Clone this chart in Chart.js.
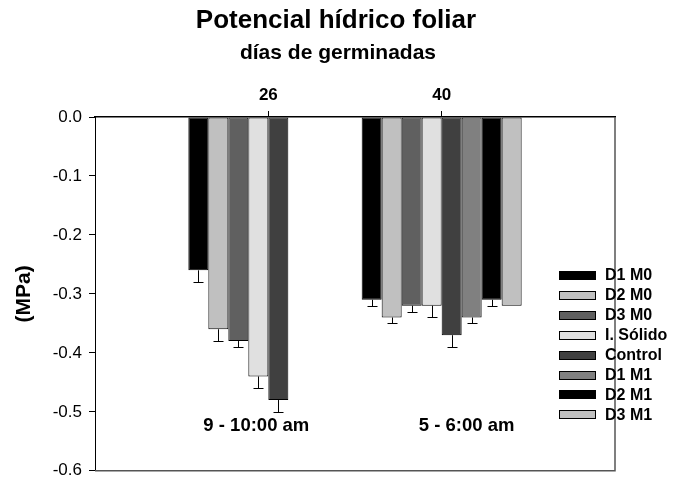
<!DOCTYPE html>
<html>
<head>
<meta charset="utf-8">
<script src="https://cdn.jsdelivr.net/npm/chart.js@4/dist/chart.umd.min.js"></script>
<style>
  html, body { margin: 0; padding: 0; background: #fff; }
  #wrap { width: 680px; height: 488px; }
</style>
</head>
<body>
<div id="wrap"><canvas id="c" width="680" height="488"></canvas></div>
<script>
// ---- data ----
const categories = ['', '26', '40', ''];
const seriesNames = ['D1 M0', 'D2 M0', 'D3 M0', 'I. Sólido', 'Control', 'D1 M1', 'D2 M1', 'D3 M1'];
const seriesColors = ['#000000', '#c0c0c0', '#606060', '#e0e0e0', '#404040', '#808080', '#000000', '#c0c0c0'];
// values at day 26 and day 40 (MPa); null = no bar
const day26 = [-0.26, -0.36, -0.38, -0.44, -0.48, null, null, null];
const day40 = [-0.31, -0.34, -0.32, -0.32, -0.37, -0.34, -0.31, -0.32];
// downward standard errors
const err26 = [0.02, 0.02, 0.01, 0.02, 0.02, null, null, null];
const err40 = [0.01, 0.01, 0.01, 0.02, 0.02, 0.01, 0.01, 0];
const yTicks = [0, -0.1, -0.2, -0.3, -0.4, -0.5, -0.6];
const titleText = 'Potencial hídrico foliar';
const subtitleText = 'días de germinadas';
const notes = [
  { text: '9 - 10:00 am', cat: 1, dx: -12, y: -0.532 },
  { text: '5 - 6:00 am', cat: 2, dx: 25, y: -0.532 }
];

const FONT = "'Liberation Sans', Arial, Helvetica, sans-serif";

const datasets = seriesNames.map((name, i) => ({
  label: name,
  data: [null, day26[i], day40[i], null],
  errors: [null, err26[i], err40[i], null],
  backgroundColor: seriesColors[i],
  borderColor: '#000000',
  borderWidth: 1,
  borderSkipped: false,
  categoryPercentage: 0.923,
  barPercentage: 1.0
}));

const errorBars = {
  id: 'errorBars',
  afterDatasetsDraw(chart) {
    const ctx = chart.ctx;
    const y = chart.scales.y;
    ctx.save();
    ctx.strokeStyle = '#000';
    ctx.lineWidth = 1;
    chart.data.datasets.forEach((ds, di) => {
      const meta = chart.getDatasetMeta(di);
      meta.data.forEach((el, j) => {
        const v = ds.data[j], e = ds.errors[j];
        if (v === null || e === null || !e) return;
        const x = Math.round(el.x) + 0.5;
        const y0 = y.getPixelForValue(v);
        const y1 = Math.round(y.getPixelForValue(v - e)) + 0.5;
        ctx.beginPath();
        ctx.moveTo(x, y0);
        ctx.lineTo(x, y1);
        ctx.moveTo(x - 5, y1);
        ctx.lineTo(x + 5, y1);
        ctx.stroke();
      });
    });
    ctx.restore();
  }
};

const extras = {
  id: 'extras',
  afterDraw(chart) {
    const ctx = chart.ctx;
    const a = chart.chartArea;
    const xs = chart.scales.x, ys = chart.scales.y;
    ctx.save();
    // bottom and right frame
    ctx.strokeStyle = '#555';
    ctx.lineWidth = 1.5;
    ctx.beginPath();
    ctx.moveTo(a.left, a.bottom);
    ctx.lineTo(a.right, a.bottom);
    ctx.lineTo(a.right, a.top);
    ctx.stroke();
    // titles
    ctx.fillStyle = '#000';
    ctx.textAlign = 'center';
    ctx.textBaseline = 'alphabetic';
    ctx.font = 'bold 26px ' + FONT;
    ctx.fillText(titleText, 336, 28);
    ctx.font = 'bold 21px ' + FONT;
    ctx.fillText(subtitleText, 338, 59);
    // notes
    ctx.font = 'bold 18.5px ' + FONT;
    notes.forEach(n => {
      ctx.fillText(n.text, xs.getPixelForValue(n.cat) + n.dx, ys.getPixelForValue(n.y));
    });
    // legend
    ctx.font = 'bold 16px ' + FONT;
    ctx.textAlign = 'left';
    ctx.textBaseline = 'middle';
    chart.data.datasets.forEach((ds, i) => {
      const cy = 275 + i * 19.9;
      ctx.fillStyle = ds.backgroundColor;
      ctx.fillRect(559.5, Math.round(cy - 4) + 0.5, 36, 8);
      ctx.strokeStyle = '#000';
      ctx.lineWidth = 1;
      ctx.strokeRect(559.5, Math.round(cy - 4) + 0.5, 36, 8);
      ctx.fillStyle = '#000';
      ctx.fillText(ds.label, 605, cy + 1);
    });
    ctx.restore();
  }
};

new Chart(document.getElementById('c'), {
  type: 'bar',
  data: { labels: categories, datasets },
  plugins: [errorBars, extras],
  options: {
    responsive: false,
    animation: false,
    devicePixelRatio: 1,
    layout: { padding: { left: 0, right: 65, top: 64, bottom: 11 } },
    plugins: {
      legend: { display: false },
      tooltip: { enabled: false },
      title: { display: false },
      subtitle: { display: false }
    },
    scales: {
      x: {
        type: 'category',
        position: 'top',
        offset: false,
        grid: {
          offset: false,
          drawOnChartArea: false,
          drawTicks: true,
          tickLength: 6,
          color: (c) => (c.tick && c.tick.label) ? '#000' : 'rgba(0,0,0,0)'
        },
        border: { display: true, color: '#000', width: 1.5 },
        ticks: {
          color: '#000',
          font: { family: FONT, size: 17, weight: 'bold' },
          padding: 5,
          maxRotation: 0,
          autoSkip: false
        },
        afterFit(s) { s.height = 53; }
      },
      y: {
        min: -0.6,
        max: 0,
        grid: { drawOnChartArea: false, drawTicks: true, tickLength: 6, color: '#000' },
        border: { display: true, color: '#000', width: 1 },
        afterBuildTicks(s) { s.ticks = yTicks.map(v => ({ value: v })); },
        ticks: {
          color: '#000',
          font: { family: FONT, size: 17 },
          padding: 7,
          callback: (v) => Number(v).toFixed(1)
        },
        title: {
          display: true,
          text: '(MPa)',
          color: '#000',
          font: { family: FONT, size: 21, weight: 'bold' },
          padding: { top: 12, bottom: 0 }
        },
        afterFit(s) { s.width = 95; }
      }
    }
  }
});
</script>
</body>
</html>
